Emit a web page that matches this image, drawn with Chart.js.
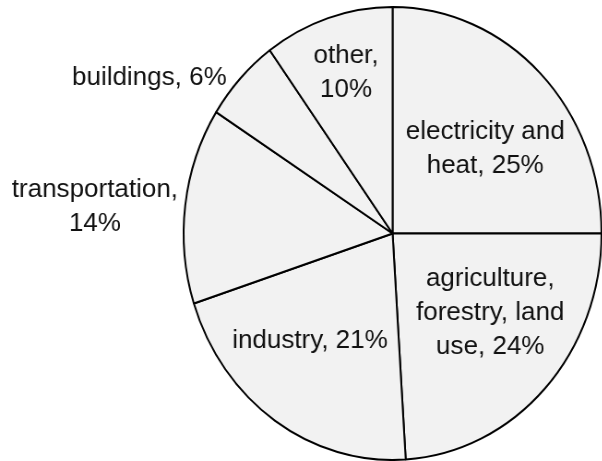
<!DOCTYPE html>
<html>
<head>
<meta charset="utf-8">
<script src="https://cdn.jsdelivr.net/npm/chart.js@4.4.1/dist/chart.umd.min.js"></script>
<style>
  html, body { margin: 0; padding: 0; overflow: hidden; background: #fff; }
  #wrap { width: 602px; height: 461px; overflow: hidden; }
  /* the original pie is a little narrower than it is tall */
  #pie { display: block; transform: scaleX(0.9226); transform-origin: 0 0; }
</style>
</head>
<body>
<div id="wrap"><canvas id="pie" width="851" height="461"></canvas></div>
<script>
const categories = ['electricity and heat', 'agriculture, forestry, land use', 'industry', 'transportation', 'buildings', 'other'];
const shares = [25, 24, 21, 14, 6, 10];
// how each label is broken into lines
const labelLines = [
    ['electricity and', 'heat, 25%'],
    ['agriculture,', 'forestry, land', 'use, 24%'],
    ['industry, 21%'],
    ['transportation,', '14%'],
    ['buildings, 6%'],
    ['other,', '10%']
];
// label placement: [degrees from slice middle, fraction of radius]
const labelSpot = [[4.2, 0.586], [-6.9, 0.58], [6.2, 0.61], [-2.2, 1.43], [-12.4, 1.355], [0.7, 0.75]];

const squeeze = 0.9226;

const sliceLabels = {
    id: 'sliceLabels',
    afterDraw(chart) {
        const ctx = chart.ctx;
        const meta = chart.getDatasetMeta(0);
        ctx.save();
        ctx.scale(1 / squeeze, 1);
        ctx.font = '26px "Liberation Sans", Arial, sans-serif';
        ctx.fillStyle = '#111';
        ctx.textAlign = 'center';
        ctx.textBaseline = 'alphabetic';
        const lh = 34;
        meta.data.forEach((arc, i) => {
            const p = arc.getProps(['x', 'y', 'startAngle', 'endAngle', 'outerRadius'], true);
            const a = (p.startAngle + p.endAngle) / 2 + labelSpot[i][0] * Math.PI / 180;
            const r = p.outerRadius * labelSpot[i][1];
            const px = (p.x + Math.cos(a) * r) * squeeze;
            const py = p.y + Math.sin(a) * r;
            const lines = labelLines[i];
            lines.forEach((t, k) => {
                ctx.fillText(t, px, py + (k - (lines.length - 1) / 2) * lh + 9);
            });
        });
        ctx.restore();
    }
};

new Chart(document.getElementById('pie'), {
    type: 'pie',
    data: {
        labels: categories,
        datasets: [{
            data: shares,
            backgroundColor: '#f2f2f2',
            borderColor: '#000',
            borderWidth: 2,
            hoverOffset: 0
        }]
    },
    options: {
        responsive: false,
        animation: false,
        layout: { padding: { top: 6, bottom: 0, left: 0, right: 0 } },
        plugins: { legend: { display: false }, tooltip: { enabled: false } },
        events: []
    },
    plugins: [sliceLabels]
});
</script>
</body>
</html>
